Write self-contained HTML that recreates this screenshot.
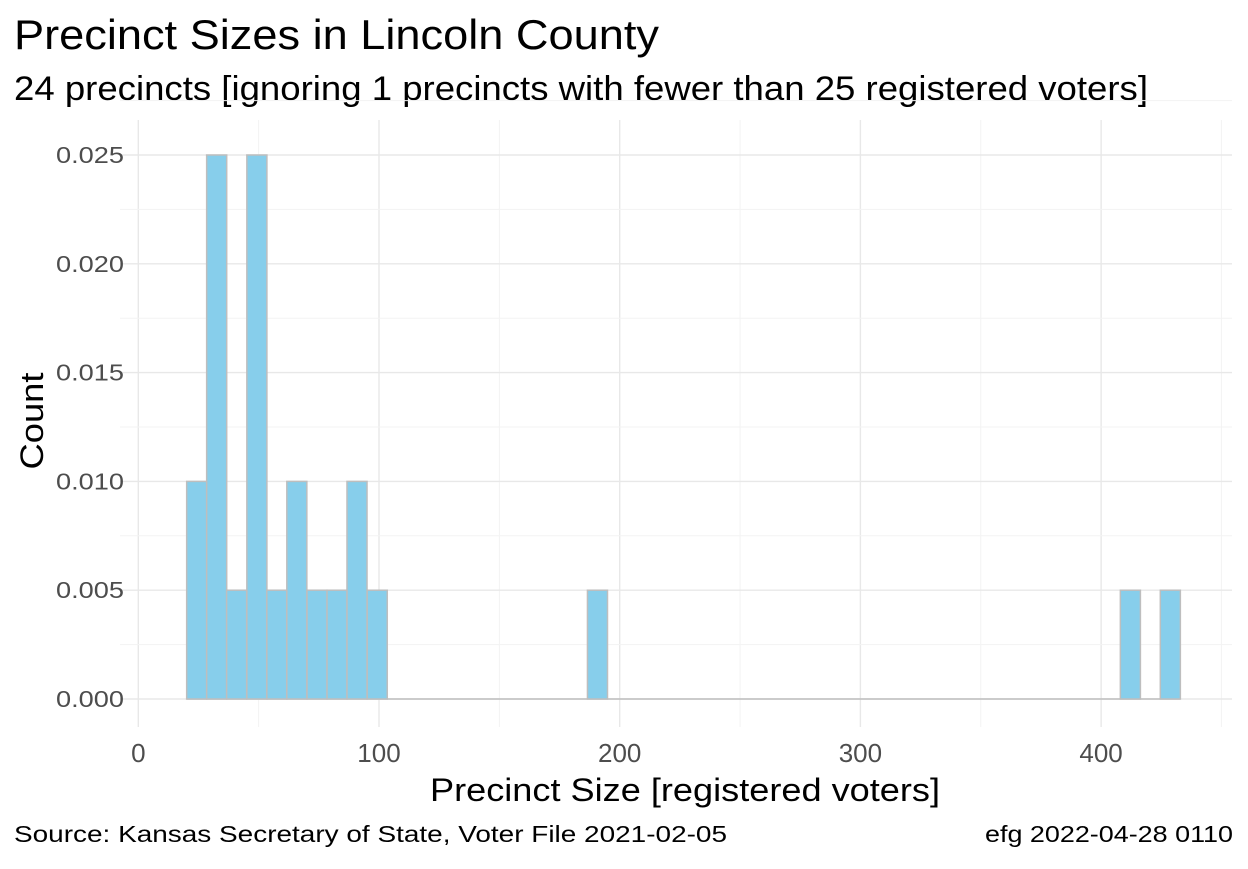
<!DOCTYPE html>
<html><head><meta charset="utf-8"><style>
body{margin:0;background:#fff;font-family:"Liberation Sans",sans-serif}
</style></head><body>
<svg id="chart" width="1248" height="864" xmlns="http://www.w3.org/2000/svg" font-family="Liberation Sans, sans-serif">
<text x="14" y="49" font-size="42" textLength="645" lengthAdjust="spacingAndGlyphs" fill="#000">Precinct Sizes in Lincoln County</text>
<text x="14" y="100" font-size="34" textLength="1134" lengthAdjust="spacingAndGlyphs" fill="#000">24 precincts [ignoring 1 precincts with fewer than 25 registered voters]</text>
<g id="grid"></g><g id="bars"></g><g id="ticks"></g>
<text transform="translate(43,421) rotate(-90)" text-anchor="middle" font-size="32" textLength="97" lengthAdjust="spacingAndGlyphs">Count</text>
<text x="685" y="801" text-anchor="middle" font-size="32" textLength="510" lengthAdjust="spacingAndGlyphs">Precinct Size [registered voters]</text>
<text x="14" y="842" font-size="23" textLength="713" lengthAdjust="spacingAndGlyphs">Source:  Kansas Secretary of State, Voter File  2021-02-05</text>
<text x="1233" y="842" text-anchor="end" font-size="23" textLength="248" lengthAdjust="spacingAndGlyphs">efg 2022-04-28 0110</text>
</svg>
<script>
const binLefts=[20.1,28.4,36.7,45.1,53.4,61.7,70.1,78.4,86.7,95.1,186.6,408.0,424.6];
const binValues=[0.010,0.025,0.005,0.025,0.005,0.010,0.005,0.005,0.010,0.005,0.005,0.005,0.005];
const binWidth=8.33;
const xTicks=[0,100,200,300,400];
const yTicks=[0,0.005,0.010,0.015,0.020,0.025];
const yTickLabels=["0.000","0.005","0.010","0.015","0.020","0.025"];
const NS="http://www.w3.org/2000/svg";
const X0=138.3,XS=2.407,Y0=699,YS=544/0.025;
const x=v=>X0+v*XS, y=v=>Y0-v*YS;
const PL=120,PR=1232,PT=120,PB=727;
function mk(t,a,p){const e=document.createElementNS(NS,t);for(const k in a)e.setAttribute(k,a[k]);p.appendChild(e);return e;}
const g=document.getElementById('grid');
for(let v=-50;v<=450;v+=50){const px=x(v);if(px<PL||px>PR)continue;const l=mk('line',{x1:px,x2:px,y1:PT,y2:PB,stroke:v%100?'#f3f3f3':'#e8e8e8','stroke-width':v%100?1:1.4},g);

}
for(let i=0;i<=11;i++){const v=i*0.0025;const py=y(v);const l=mk('line',{x1:PL,x2:PR,y1:py,y2:py,stroke:i%2?'#f3f3f3':'#e8e8e8','stroke-width':i%2?1:1.4},g);

}
const b=document.getElementById('bars');
const base=mk('line',{x1:x(binLefts[0]),x2:x(binLefts[binLefts.length-1]+binWidth),y1:Y0,y2:Y0,stroke:'#bebebe','stroke-width':1.5},b);


binLefts.forEach((l,i)=>{const v=binValues[i];const r=mk('rect',{x:x(l),y:y(v),width:binWidth*XS,height:Y0-y(v),fill:'#87ceeb',stroke:'#bebebe','stroke-width':1.5},b);

});
const t=document.getElementById('ticks');
xTicks.forEach(v=>{const e=mk('text',{x:x(v),y:762,'text-anchor':'middle','font-size':26,fill:'#4d4d4d'},t);e.textContent=v;

});
yTicks.forEach((v,i)=>{const e=mk('text',{x:124,y:y(v)+8,'text-anchor':'end','font-size':23,textLength:68,lengthAdjust:'spacingAndGlyphs',fill:'#4d4d4d'},t);e.textContent=yTickLabels[i];

});
</script>
</body></html>
